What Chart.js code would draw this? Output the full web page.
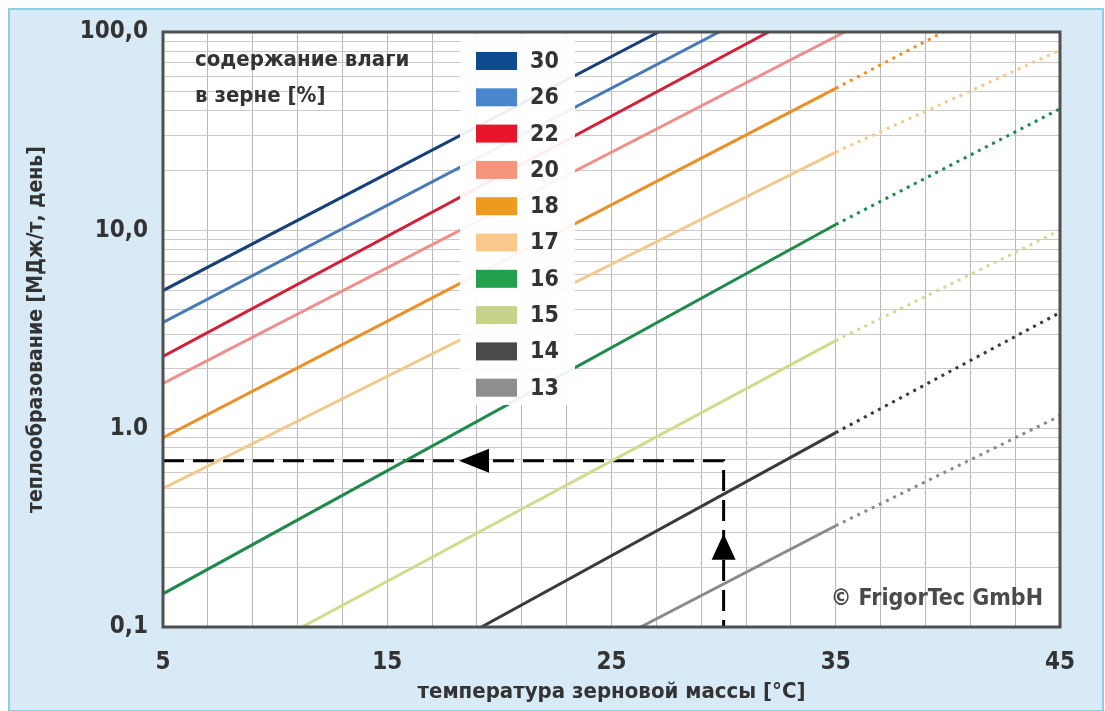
<!DOCTYPE html>
<html><head><meta charset="utf-8">
<script src="https://cdn.jsdelivr.net/npm/chart.js@4.4.0/dist/chart.umd.min.js"></script>
<style>html,body{margin:0;padding:0;background:#fff;} #wrap{width:1105px;height:711px;}</style>
</head><body><div id="wrap"><canvas id="c" width="1105" height="711"></canvas></div>
<script>
// ---- data ----
const moisture      = ['30','26','22','20','18','17','16','15','14','13'];
const solidStartT   = [5,    5,    5,    5,    5,    5,    5,     11.2, 19.2, 26.3];
const solidStartV   = [4.97, 3.43, 2.31, 1.69, 0.90, 0.50, 0.147, 0.1,  0.1,  0.1];
const solidEndT     = [27.1, 29.8, 32.0, 35.4, 35,   35,   35,    35,   35,   35];
const solidEndV     = [100,  100,  100,  100,  52,   24.8, 10.7,  2.78, 0.955,0.324];
const dottedEndT    = [null, null, null, null, 39.8, 45,   45,    45,   45,   45];
const dottedEndV    = [null, null, null, null, 100,  81,   41,    10,   3.85, 1.16];
const exampleTemp   = 30;     // °C
const exampleHeat   = 0.69;   // MJ/t/day
const arrowTipT     = 18.2;   // tip of horizontal arrow
const arrowTipV     = 0.295;  // tip of vertical arrow
const xTickValues   = [5, 15, 25, 35, 45];
const yTickValues   = [0.1, 1, 10, 100];
const yTickLabels   = ['0,1', '1.0', '10,0', '100,0'];

// ---- styles ----
const lineColors   = ['#173f78','#4778b8','#d0203a','#ee8f8c','#ec8f26','#f5c98c','#1f8a4c','#d3da8e','#3a3a3a','#8a8a8a'];
const legendColors = ['#0f4a90','#4a86cc','#e5162c','#f4957c','#ee9a1c','#f8c98a','#23a04c','#c6d38a','#4a4a4a','#8e8e8e'];
const FONT = "'DejaVu Sans Condensed', 'DejaVu Sans', sans-serif";
const TEXT = '#333333';

const xGrid = [];
for (let v = 5; v <= 45; v += 2) xGrid.push(v);
const yGrid = [];
for (let e = -1; e <= 1; e++) for (let d = 1; d <= 9; d++) yGrid.push(+(d * Math.pow(10, e)).toPrecision(3));
yGrid.push(100);

const datasets = [];
moisture.forEach((m, i) => {
  datasets.push({
    label: m, kind: 'solid', legendColor: legendColors[i],
    data: [{x: solidStartT[i], y: solidStartV[i]}, {x: solidEndT[i], y: solidEndV[i]}],
    borderColor: lineColors[i], borderWidth: 3, pointRadius: 0, fill: false, tension: 0
  });
  if (dottedEndT[i] !== null) {
    datasets.push({
      label: m + ' extrapolated', kind: 'dotted',
      data: [{x: solidEndT[i], y: solidEndV[i]}, {x: dottedEndT[i], y: dottedEndV[i]}],
      borderColor: lineColors[i], borderWidth: 3, borderDash: [3, 5], pointRadius: 0, fill: false, tension: 0
    });
  }
});
datasets.push({
  label: 'example', kind: 'example',
  data: [{x: 5, y: exampleHeat}, {x: exampleTemp, y: exampleHeat}, {x: exampleTemp, y: 0.1}],
  borderColor: '#000000', borderWidth: 3, borderDash: [21, 9], pointRadius: 0, fill: false, tension: 0
});

const deco = {
  id: 'deco',
  beforeDraw(chart) {
    const {ctx, width, height, chartArea: a} = chart;
    ctx.save();
    ctx.fillStyle = '#ffffff'; ctx.fillRect(0, 0, width, height);
    ctx.fillStyle = '#d9eaf7'; ctx.fillRect(8, 8, width - 9, height - 8);
    ctx.strokeStyle = '#8ccfe2'; ctx.lineWidth = 2; ctx.strokeRect(9, 9, width - 11, height - 9);
    ctx.fillStyle = '#ffffff'; ctx.fillRect(a.left, a.top, a.right - a.left, a.bottom - a.top);
    ctx.restore();
  },
  afterDatasetsDraw(chart) {
    const {ctx, chartArea: a, scales: {x, y}} = chart;
    ctx.save();
    // legend panel
    ctx.fillStyle = 'rgba(255,255,255,0.92)';
    ctx.fillRect(a.left + 297, a.top + 2, 115, 371);
    const items = chart.data.datasets.filter(d => d.kind === 'solid');
    ctx.font = 'bold 23px ' + FONT;
    ctx.textBaseline = 'middle';
    ctx.textAlign = 'left';
    items.forEach((d, k) => {
      const cy = a.top + 29 + k * 36.3;
      ctx.fillStyle = d.legendColor;
      ctx.fillRect(a.left + 313, cy - 9, 41, 18);
      ctx.fillStyle = TEXT;
      ctx.fillText(d.label, a.left + 367, cy + 1);
    });
    // header text
    ctx.font = 'bold 22px ' + FONT;
    ctx.fillStyle = TEXT;
    ctx.fillText('содержание влаги', a.left + 32, a.top + 28);
    ctx.fillText('в зерне [%]', a.left + 32, a.top + 64);
    // copyright
    ctx.font = 'bold 23px ' + FONT;
    ctx.fillStyle = '#4a4a4a';
    ctx.textAlign = 'right';
    ctx.fillText('© FrigorTec GmbH', a.right - 17, a.bottom - 28);
    // arrowheads
    ctx.fillStyle = '#000';
    const hx = x.getPixelForValue(arrowTipT), hy = y.getPixelForValue(exampleHeat);
    ctx.beginPath(); ctx.moveTo(hx, hy); ctx.lineTo(hx + 30, hy - 12); ctx.lineTo(hx + 30, hy + 12); ctx.closePath(); ctx.fill();
    const vx = x.getPixelForValue(exampleTemp), vy = y.getPixelForValue(arrowTipV);
    ctx.beginPath(); ctx.moveTo(vx, vy); ctx.lineTo(vx - 12, vy + 26); ctx.lineTo(vx + 12, vy + 26); ctx.closePath(); ctx.fill();
    // frame
    ctx.strokeStyle = '#4f4f4f'; ctx.lineWidth = 3;
    ctx.strokeRect(a.left, a.top, a.right - a.left, a.bottom - a.top);
    ctx.restore();
  }
};

new Chart(document.getElementById('c'), {
  type: 'line',
  data: {datasets},
  plugins: [deco],
  options: {
    responsive: false, animation: false, devicePixelRatio: 1,
    layout: {padding: {left: 10, top: 32, right: 45, bottom: 0}},
    plugins: {legend: {display: false}, tooltip: {enabled: false}},
    scales: {
      x: {
        type: 'linear', min: 5, max: 45,
        afterBuildTicks: s => { s.ticks = xGrid.map(v => ({value: v})); },
        afterFit: s => { s.height = 84; },
        ticks: {
          autoSkip: false, maxRotation: 0, padding: 21, color: TEXT,
          font: {family: FONT, size: 24, weight: 'bold'},
          callback: v => xTickValues.includes(v) ? String(v) : ''
        },
        grid: {color: '#b8b8b8', lineWidth: 1, drawTicks: false},
        border: {display: false},
        title: {display: true, text: 'температура зерновой массы [°C]', color: TEXT,
                font: {family: FONT, size: 22, weight: 'bold'}, padding: {top: 0, bottom: 6}}
      },
      y: {
        type: 'logarithmic', min: 0.1, max: 100,
        afterBuildTicks: s => { s.ticks = yGrid.map(v => ({value: v})); },
        afterFit: s => { s.width = 153; },
        ticks: {
          autoSkip: false, padding: 15, color: TEXT,
          font: {family: FONT, size: 24, weight: 'bold'},
          callback: v => { const i = yTickValues.findIndex(t => Math.abs(t - v) / t < 1e-6); return i >= 0 ? yTickLabels[i] : ''; }
        },
        grid: {color: '#cacaca', lineWidth: 1, drawTicks: false},
        border: {display: false},
        title: {display: true, text: 'теплообразование [МДж/т, день]', color: TEXT,
                font: {family: FONT, size: 21, weight: 'bold'}, padding: {top: 14, bottom: 0}}
      }
    }
  }
});
</script></body></html>
